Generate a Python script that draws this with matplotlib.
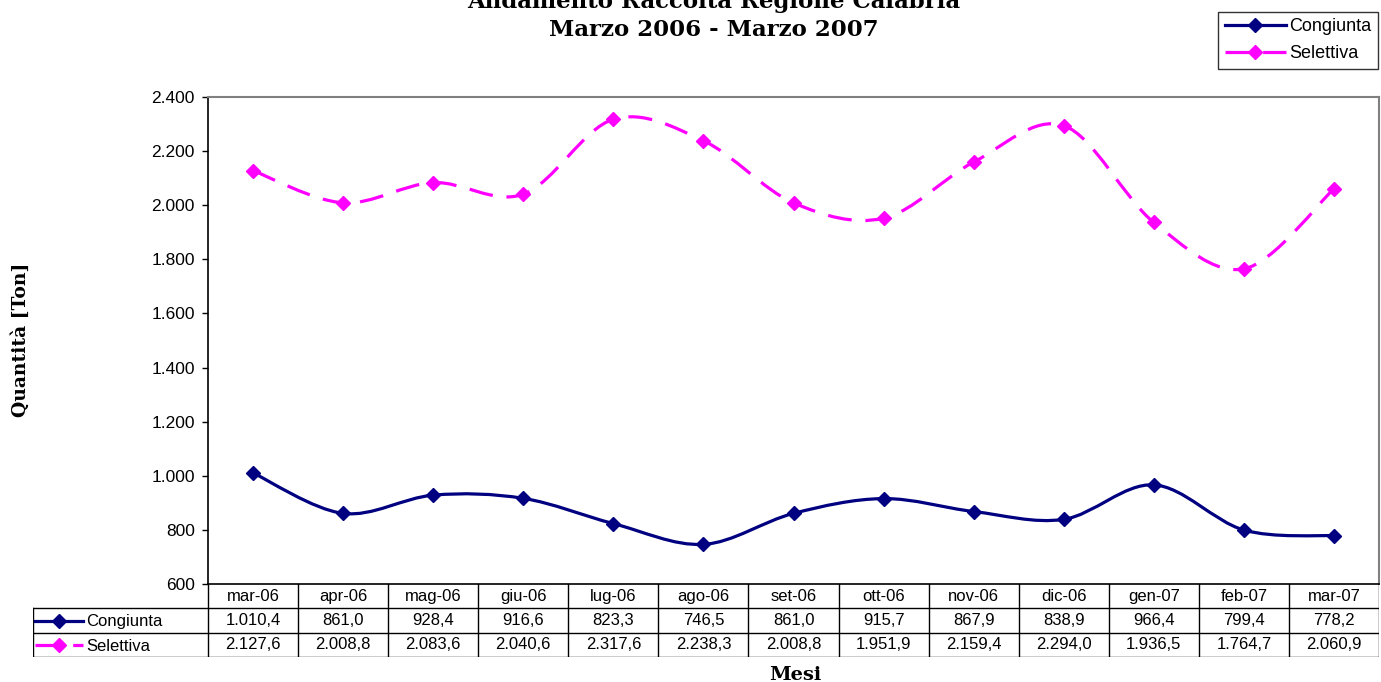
import numpy as np
import matplotlib.pyplot as plt
from matplotlib.path import Path
from matplotlib.patches import PathPatch
from matplotlib.lines import Line2D
from matplotlib.ticker import FuncFormatter

months = ['mar-06', 'apr-06', 'mag-06', 'giu-06', 'lug-06', 'ago-06', 'set-06',
          'ott-06', 'nov-06', 'dic-06', 'gen-07', 'feb-07', 'mar-07']
congiunta = [1010.4, 861.0, 928.4, 916.6, 823.3, 746.5, 861.0,
             915.7, 867.9, 838.9, 966.4, 799.4, 778.2]
selettiva = [2127.6, 2008.8, 2083.6, 2040.6, 2317.6, 2238.3, 2008.8,
             1951.9, 2159.4, 2294.0, 1936.5, 1764.7, 2060.9]
series_names = ['Congiunta', 'Selettiva']
yticks = [600, 800, 1000, 1200, 1400, 1600, 1800, 2000, 2200, 2400]

NAVY = '#000080'
MAGENTA = '#FF00FF'
W, H = 1381, 682


def it_fmt(v, dec=1):
    # italian number format: 1.010,4
    s = f'{v:,.{dec}f}'
    return s.replace(',', 'X').replace('.', ',').replace('X', '.')


def smooth_path(xs, ys):
    # bezier like excel smoothed lines
    p = np.column_stack([xs, ys]).astype(float)
    n = len(p)
    verts = [p[0]]
    codes = [Path.MOVETO]
    for i in range(n - 1):
        p0 = p[i - 1] if i > 0 else p[i]
        p3 = p[i + 2] if i + 2 < n else p[i + 1]
        c1 = p[i] + (p[i + 1] - p0) / 6.0
        c2 = p[i + 1] - (p3 - p[i]) / 6.0
        verts += [c1, c2, p[i + 1]]
        codes += [Path.CURVE4] * 3
    return Path(verts, codes)


def px(x0, y0, x1, y1):
    return [x0 / W, 1 - y1 / H, (x1 - x0) / W, (y1 - y0) / H]


fig = plt.figure(figsize=(13.81, 6.82), dpi=100)
plt.rcParams['font.family'] = ['Liberation Sans', 'DejaVu Sans']

ax_l, ax_r, ax_t, ax_b = 208, 1379, 97, 584
ax = fig.add_axes(px(ax_l, ax_t, ax_r, ax_b))
x = np.arange(len(months))

styles = [
    dict(color=NAVY, ls='-'),
    dict(color=MAGENTA, ls=(0, (7.5, 4.3))),
]
for vals, st in zip([congiunta, selettiva], styles):
    ax.add_patch(PathPatch(smooth_path(x, vals), fill=False, edgecolor=st['color'],
                           lw=2.3, linestyle=st['ls'], capstyle='butt'))
    ax.plot(x, vals, ls='none', marker='D', ms=7.5, color=st['color'])

ax.set_xlim(-0.5, len(months) - 0.5)
ax.set_ylim(600, 2400)
ax.set_yticks(yticks)
ax.yaxis.set_major_formatter(FuncFormatter(lambda v, p: it_fmt(v, 0)))
ax.tick_params(axis='y', labelsize=12.5, length=4.5, width=1, direction='out', pad=5)
ax.set_xticks([])
for s in ['top', 'right']:
    ax.spines[s].set_color('#808080')
    ax.spines[s].set_linewidth(1.5)
ax.spines['left'].set_linewidth(1.2)
ax.spines['bottom'].set_linewidth(1.2)

# data table below the axis
colw = (ax_r - ax_l) / len(months)
tab_l = 33
tax = fig.add_axes(px(tab_l, ax_b, ax_r, 657))
xl = -0.5 - (ax_l - tab_l) / colw
tax.set_xlim(xl, len(months) - 0.5)
tax.set_ylim(3, 0)
tax.axis('off')
lc = 'black'
for k in range(len(months) + 1):
    tax.plot([k - 0.5, k - 0.5], [0, 3], color=lc, lw=1.0)
tax.plot([xl, xl], [1, 3], color=lc, lw=1.0)
for r in [1, 2, 3]:
    tax.plot([xl, len(months) - 0.5], [r, r], color=lc, lw=1.0)
for i, m in enumerate(months):
    tax.text(i, 0.5, m, ha='center', va='center', fontsize=12)
    tax.text(i, 1.5, it_fmt(congiunta[i]), ha='center', va='center', fontsize=12)
    tax.text(i, 2.5, it_fmt(selettiva[i]), ha='center', va='center', fontsize=12)
u = 1.0 / colw
for r, (name, st) in enumerate(zip(series_names, styles)):
    yy = 1.5 + r
    tax.plot([xl + 2 * u, xl + 50 * u], [yy, yy], color=st['color'], lw=2.3,
             ls=st['ls'], dash_capstyle='butt')
    tax.plot([xl + 26 * u], [yy], marker='D', ms=7, color=st['color'])
    tax.text(xl + 53 * u, yy + 0.05, name, ha='left', va='center', fontsize=12)

# titles and labels
fig.text(714 / W, 1 - 2 / H, 'Andamento Raccolta Regione Calabria', ha='center', va='center',
         fontsize=16.5, fontweight='bold', family='DejaVu Serif')
fig.text(714 / W, 1 - 30 / H, 'Marzo 2006 - Marzo 2007', ha='center', va='center',
         fontsize=16.5, fontweight='bold', family='DejaVu Serif')
fig.text(21 / W, 1 - 340 / H, 'Quantità [Ton]', rotation=90, ha='center', va='center',
         fontsize=13.5, fontweight='bold', family='DejaVu Serif')
fig.text(795 / W, 1 - 675 / H, 'Mesi', ha='center', va='center',
         fontsize=14, fontweight='bold', family='DejaVu Serif')

handles = [Line2D([], [], color=st['color'], lw=2.3, ls=st['ls'], marker='D', ms=7)
           for st in styles]
leg = fig.legend(handles, series_names, loc='upper right',
                 bbox_to_anchor=(1378 / W, 1 - 12 / H), fontsize=13, frameon=True,
                 fancybox=False, edgecolor='black', handlelength=3.4, borderpad=0.35,
                 labelspacing=0.55, handletextpad=0.2, borderaxespad=0)
leg.get_frame().set_linewidth(1.0)

fig.savefig('out.png', dpi=100)
